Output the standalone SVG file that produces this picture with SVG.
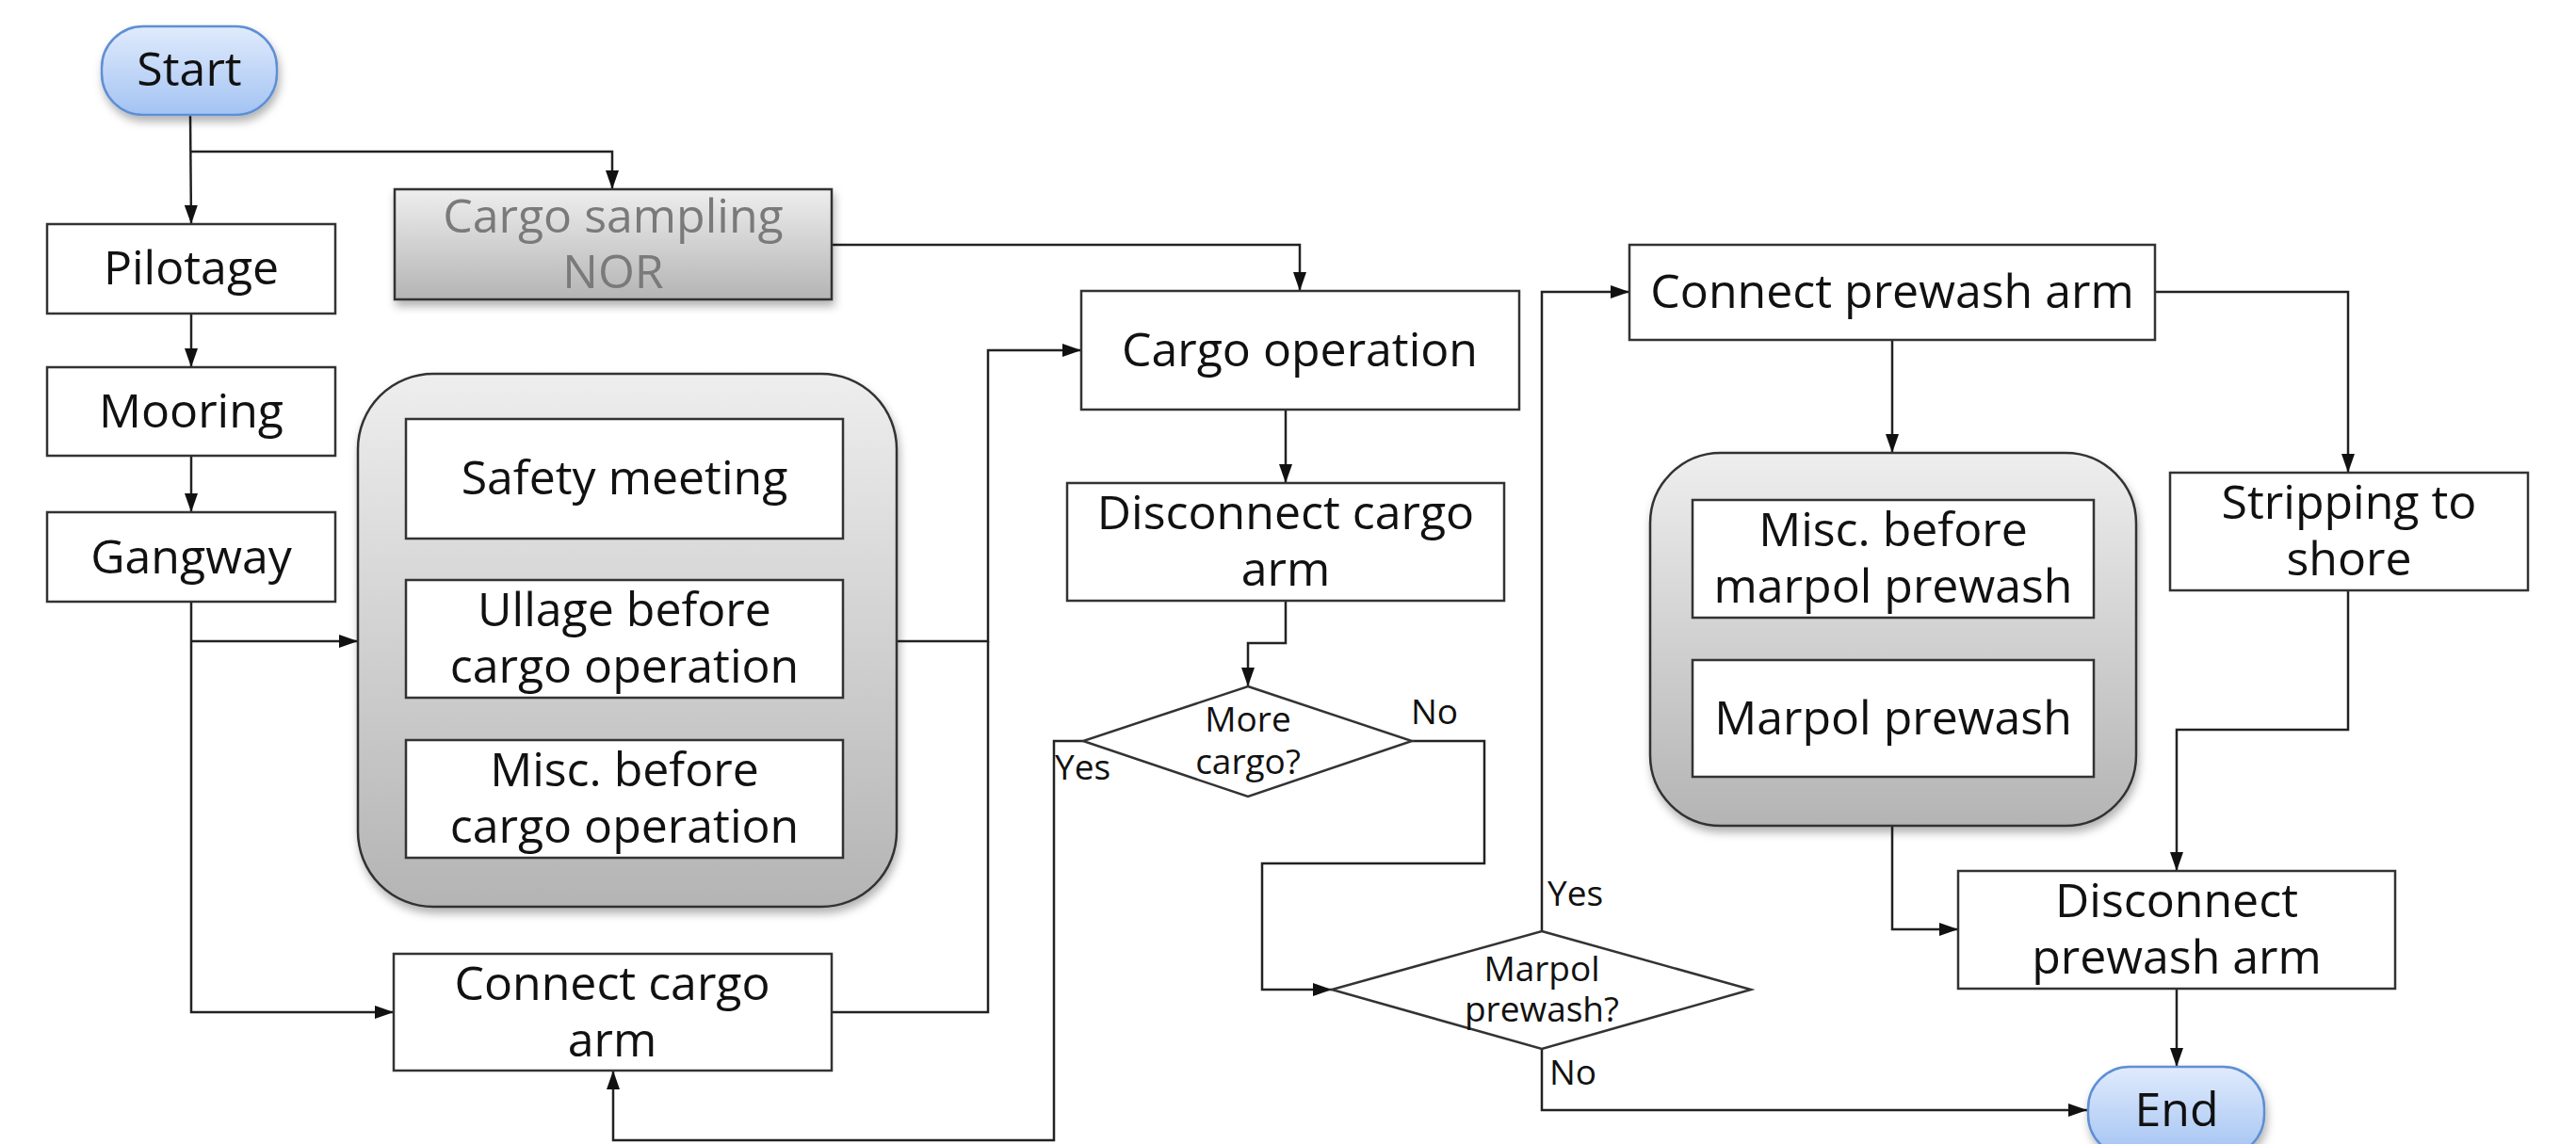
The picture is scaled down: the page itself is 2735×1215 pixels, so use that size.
<svg xmlns="http://www.w3.org/2000/svg" width="2735" height="1215" viewBox="0 0 2735 1215">
<defs>
<linearGradient id="blue" x1="0" y1="0" x2="0" y2="1"><stop offset="0" stop-color="#e0ebfc"/><stop offset="1" stop-color="#a3c3f3"/></linearGradient>
<linearGradient id="gray" x1="0" y1="0" x2="0" y2="1"><stop offset="0" stop-color="#eeeeee"/><stop offset="1" stop-color="#b4b4b4"/></linearGradient>
<filter id="sh" x="-10%" y="-10%" width="120%" height="130%"><feDropShadow dx="2" dy="6" stdDeviation="5" flood-color="#000" flood-opacity="0.3"/></filter>
<marker id="ar" markerUnits="userSpaceOnUse" markerWidth="20" markerHeight="14" refX="20" refY="7" orient="auto"><path d="M0,0 L20,7 L0,14 z" fill="#111"/></marker>
</defs>
<style>
.box{fill:#fff;stroke:#333;stroke-width:2.5}
.grp{fill:url(#gray);stroke:#333;stroke-width:2.5;filter:url(#sh)}
.term{fill:url(#blue);stroke:#5f8fd3;stroke-width:2.5;filter:url(#sh)}
.dia{fill:#fff;stroke:#333;stroke-width:2.5}
.t{font-family:"Open Sans","Noto Sans",sans-serif;font-size:50px;fill:#111;text-anchor:middle}
.s{font-family:"Open Sans","Noto Sans",sans-serif;font-size:37px;fill:#111;text-anchor:middle}
.l{font-family:"Open Sans","Noto Sans",sans-serif;font-size:37px;fill:#111}
.c path{fill:none;stroke:#222;stroke-width:2.5}
</style>
<rect width="2735" height="1215" fill="#fff"/>
<g class="c">
<path d="M202,122 L203,238" marker-end="url(#ar)"/>
<path d="M202,161 H650 V201" marker-end="url(#ar)"/>
<path d="M203,333 V390" marker-end="url(#ar)"/>
<path d="M203,484 V544" marker-end="url(#ar)"/>
<path d="M203,639 V1075 H418" marker-end="url(#ar)"/>
<path d="M203,681 H380" marker-end="url(#ar)"/>
<path d="M952,681 H1049 V372 H1148" marker-end="url(#ar)"/>
<path d="M883,1075 H1049 V681"/>
<path d="M883,260 H1380 V309" marker-end="url(#ar)"/>
<path d="M1365,435 V513" marker-end="url(#ar)"/>
<path d="M1365,638 V683 H1325 V729" marker-end="url(#ar)"/>
<path d="M1150,787 H1119 V1211 H651 V1137" marker-end="url(#ar)"/>
<path d="M1499,787 H1576 V917 H1340 V1051 H1414" marker-end="url(#ar)"/>
<path d="M1637,989 V310 H1730" marker-end="url(#ar)"/>
<path d="M1637,1114 V1179 H2216" marker-end="url(#ar)"/>
<path d="M2009,361 V481" marker-end="url(#ar)"/>
<path d="M2288,310 H2493 V502" marker-end="url(#ar)"/>
<path d="M2493,627 V775 H2311 V925" marker-end="url(#ar)"/>
<path d="M2009,877 V987 H2079" marker-end="url(#ar)"/>
<path d="M2311,1050 V1133" marker-end="url(#ar)"/>
</g>
<g id="start"><rect class="term" x="108" y="28" width="186" height="94" rx="44"/><text class="t" x="201" y="91">Start</text></g>
<g id="pilotage"><rect class="box" x="50" y="238" width="306" height="95"/><text class="t" x="203" y="302">Pilotage</text></g>
<g id="mooring"><rect class="box" x="50" y="390" width="306" height="94"/><text class="t" x="203" y="454">Mooring</text></g>
<g id="gangway"><rect class="box" x="50" y="544" width="306" height="95"/><text class="t" x="203" y="609">Gangway</text></g>
<g id="cargo-sampling"><rect x="419" y="201" width="464" height="117" fill="url(#gray)" stroke="#333" stroke-width="2.5" filter="url(#sh)"/><text class="t" x="651" y="247" fill="#7a7a7a" style="fill:#7a7a7a">Cargo sampling</text><text class="t" x="651" y="306" style="fill:#7a7a7a">NOR</text></g>
<g id="group-before-cargo">
<rect class="grp" x="380" y="397" width="572" height="566" rx="80"/>
<g id="safety-meeting"><rect class="box" x="431" y="445" width="464" height="127"/><text class="t" x="663" y="525">Safety meeting</text></g>
<g id="ullage"><rect class="box" x="431" y="616" width="464" height="125"/><text class="t" x="663" y="665">Ullage before</text><text class="t" x="663" y="725">cargo operation</text></g>
<g id="misc-cargo"><rect class="box" x="431" y="786" width="464" height="125"/><text class="t" x="663" y="835">Misc. before</text><text class="t" x="663" y="895">cargo operation</text></g>
</g>
<g id="connect-cargo-arm"><rect class="box" x="418" y="1013" width="465" height="124"/><text class="t" x="650" y="1062">Connect cargo</text><text class="t" x="650" y="1122">arm</text></g>
<g id="cargo-operation"><rect class="box" x="1148" y="309" width="465" height="126"/><text class="t" x="1380" y="389">Cargo operation</text></g>
<g id="disconnect-cargo-arm"><rect class="box" x="1133" y="513" width="464" height="125"/><text class="t" x="1365" y="562">Disconnect cargo</text><text class="t" x="1365" y="622">arm</text></g>
<g id="more-cargo"><polygon class="dia" points="1325,729 1499,787 1325,846 1150,787"/><text class="s" x="1325" y="777">More</text><text class="s" x="1325" y="822">cargo?</text></g>
<g id="marpol-q"><polygon class="dia" points="1637,989 1859,1051 1637,1114 1414,1051"/><text class="s" x="1637" y="1042">Marpol</text><text class="s" x="1637" y="1085">prewash?</text></g>
<g id="labels">
<text class="l" x="1498" y="769">No</text>
<text class="l" x="1120" y="828">Yes</text>
<text class="l" x="1643" y="962">Yes</text>
<text class="l" x="1645" y="1152">No</text>
</g>
<g id="connect-prewash-arm"><rect class="box" x="1730" y="260" width="558" height="101"/><text class="t" x="2009" y="327">Connect prewash arm</text></g>
<g id="group-prewash">
<rect class="grp" x="1752" y="481" width="516" height="396" rx="75"/>
<g id="misc-marpol"><rect class="box" x="1797" y="531" width="426" height="125"/><text class="t" x="2010" y="580">Misc. before</text><text class="t" x="2010" y="640">marpol prewash</text></g>
<g id="marpol-prewash"><rect class="box" x="1797" y="701" width="426" height="124"/><text class="t" x="2010" y="780">Marpol prewash</text></g>
</g>
<g id="stripping"><rect class="box" x="2304" y="502" width="380" height="125"/><text class="t" x="2494" y="551">Stripping to</text><text class="t" x="2494" y="611">shore</text></g>
<g id="disconnect-prewash-arm"><rect class="box" x="2079" y="925" width="464" height="125"/><text class="t" x="2311" y="974">Disconnect</text><text class="t" x="2311" y="1034">prewash arm</text></g>
<g id="end"><rect class="term" x="2217" y="1133" width="187" height="95" rx="44"/><text class="t" x="2311" y="1196">End</text></g>
</svg>
